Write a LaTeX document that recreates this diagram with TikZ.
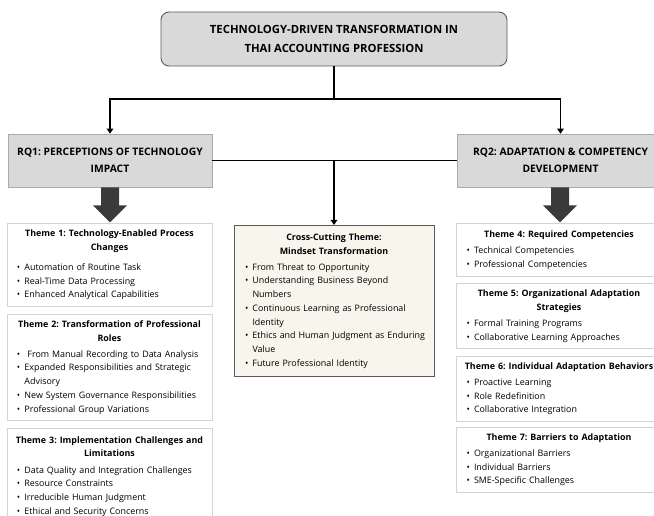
\documentclass[tikz,border=0pt]{standalone}
\usepackage{fontspec}
\setmainfont{Open Sans}
\usetikzlibrary{arrows.meta, positioning}

\definecolor{boxgray}{HTML}{D9D9D9}
\definecolor{edgegray}{HTML}{5A5A5A}
\definecolor{lightedge}{HTML}{D4D4D4}
\definecolor{crossfill}{HTML}{F7F5EC}
\definecolor{arrowgray}{HTML}{3A3A3A}

\newlength{\bulletskip}
\newcommand{\themehead}[1]{{\centering\bfseries #1\par}\vspace{2.5bp}}
\newcommand{\bitem}[1]{{\noindent\hangindent=\dimexpr\bulletskip+7.5bp\relax\hangafter=1\hspace*{\bulletskip}\makebox[7.5bp][l]{\textbullet}#1\par}}
\frenchspacing
\hyphenpenalty=10000

\begin{document}
\begin{tikzpicture}[x=1bp, y=-1bp,
    titlebox/.style={rectangle, rounded corners=8bp, draw=edgegray, fill=boxgray, line width=0.9bp, align=center, inner sep=0pt, font=\fontsize{11.3bp}{18.5bp}\selectfont\bfseries},
    rqbox/.style={rectangle, draw=lightedge!80!black, fill=boxgray, line width=0.6bp, align=center, inner sep=0pt, font=\fontsize{10.3bp}{17bp}\selectfont\bfseries},
    themebox/.style={rectangle, draw=lightedge, fill=white, line width=0.8bp, text width=197bp, inner xsep=4bp, inner ysep=6bp, align=left, font=\fontsize{8.9bp}{13.7bp}\selectfont\setlength{\bulletskip}{6bp}},
    crossbox/.style={themebox, draw=edgegray, fill=crossfill, text width=196bp, inner xsep=2bp, font=\fontsize{8.9bp}{13.7bp}\selectfont\setlength{\bulletskip}{9bp}},
    line/.style={draw, black, line width=1.8bp},
    arrow/.style={line, -{Triangle[length=5bp, width=6.5bp]}},
    bigarrow/.style={fill=arrowgray}
]
\useasboundingbox (0,0) rectangle (654,516);

% Title
\node[titlebox, minimum width=346bp, minimum height=54bp] (title) at (334,39) {TECHNOLOGY-DRIVEN TRANSFORMATION IN\\THAI ACCOUNTING PROFESSION};
\coordinate (split) at (334,99);

% Research questions
\node[rqbox, minimum width=204bp, minimum height=53bp] (rq1) at (110,160.5) {RQ1: PERCEPTIONS OF TECHNOLOGY\\IMPACT};
\node[rqbox, minimum width=207bp, minimum height=53bp] (rq2) at (560.5,160.5) {RQ2: ADAPTATION \& COMPETENCY\\DEVELOPMENT};

% Cross-cutting theme
\node[crossbox, anchor=north, minimum height=151bp] (cross) at (334,225) {\themehead{Cross-Cutting Theme:\\Mindset Transformation}
\bitem{From Threat to Opportunity}
\bitem{Understanding Business Beyond\linebreak Numbers}
\bitem{Continuous Learning as Professional\linebreak Identity}
\bitem{\mbox{Ethics and Human Judgment as Enduring}\linebreak Value}
\bitem{Future Professional Identity}};

% RQ1 themes
\node[themebox, anchor=north, minimum height=83bp] (theme1) at (109.5,223) {\themehead{Theme 1: Technology-Enabled Process\\Changes}\vspace{4bp}
\bitem{Automation of Routine Task}
\bitem{Real-Time Data Processing}
\bitem{Enhanced Analytical Capabilities}};
\node[themebox, anchor=north, minimum height=106bp] (theme2) at (109.5,314) {\themehead{Theme 2: Transformation of Professional\\Roles}
\bitem{\ From Manual Recording to Data Analysis}
\bitem{Expanded Responsibilities and Strategic\linebreak Advisory}
\bitem{New System Governance Responsibilities}
\bitem{Professional Group Variations}};
\node[themebox, anchor=north, minimum height=96bp] (theme3) at (109.5,428) {\themehead{\mbox{Theme 3: Implementation Challenges and}\\Limitations}
\bitem{Data Quality and Integration Challenges}
\bitem{Resource Constraints}
\bitem{Irreducible Human Judgment}
\bitem{Ethical and Security Concerns}};

% RQ2 themes
\node[themebox, anchor=north, minimum height=53bp] (theme4) at (559,223) {\themehead{Theme 4: Required Competencies}
\bitem{Technical Competencies}
\bitem{Professional Competencies}};
\node[themebox, anchor=north, minimum height=65bp] (theme5) at (559,283) {\themehead{Theme 5: Organizational Adaptation\\Strategies}
\bitem{Formal Training Programs}
\bitem{Collaborative Learning Approaches}};
\node[themebox, anchor=north, minimum height=62bp] (theme6) at (559,356) {\themehead{\makebox[\linewidth]{Theme 6: Individual Adaptation Behaviors}}
\bitem{Proactive Learning}
\bitem{Role Redefinition}
\bitem{Collaborative Integration}};
\node[themebox, anchor=north, minimum height=61bp] (theme7) at (559,427) {\themehead{Theme 7: Barriers to Adaptation}
\bitem{Organizational Barriers}
\bitem{Individual Barriers}
\bitem{SME-Specific Challenges}};

% Big arrows
\fill[bigarrow] (rq1.south) ++(-9,0) -- ++(0,18) -- ++(-8,0) -- ++(17,17) -- ++(17,-17) -- ++(-8,0) -- ++(0,-18) -- cycle;
\fill[bigarrow] (rq2.south) ++(-9.5,0) -- ++(0,18) -- ++(-8,0) -- ++(17,17) -- ++(17,-17) -- ++(-8,0) -- ++(0,-18) -- cycle;

% Connections
\path[line] (title.south) -- (split);
\path[arrow] (split) -| (rq1.north);
\path[arrow] (split) -| (rq2.north);
\path[line] (rq1.east) -- (rq2.west);
\path[arrow] (rq1.east -| cross.north) -- (cross.north);

\end{tikzpicture}
\end{document}
